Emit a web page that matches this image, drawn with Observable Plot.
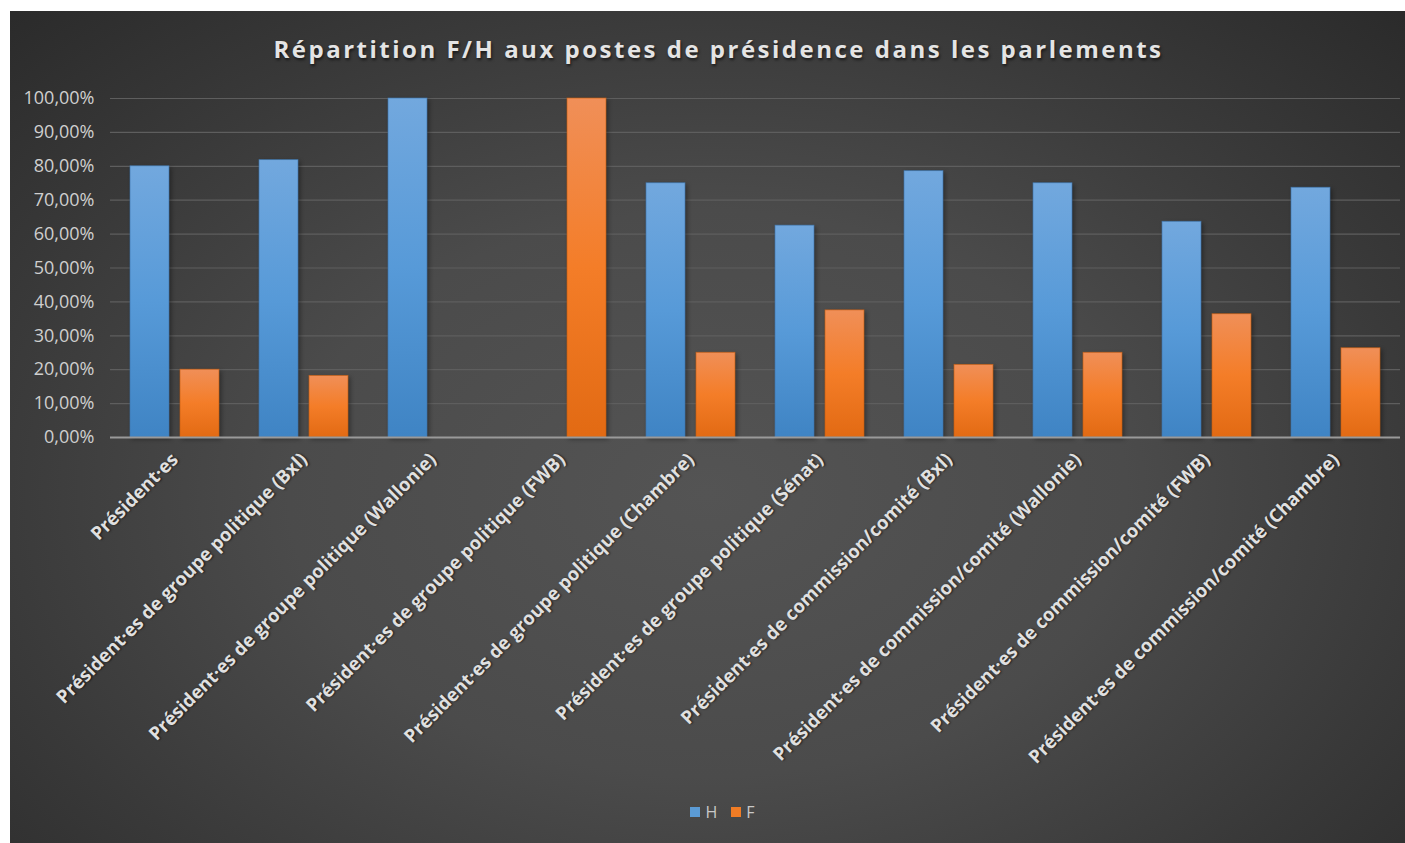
<!DOCTYPE html>
<html>
<head>
<meta charset="utf-8">
<script src="https://cdn.jsdelivr.net/npm/d3@7"></script>
<script src="https://cdn.jsdelivr.net/npm/@observablehq/plot@0.6"></script>
<style>
  html, body { margin: 0; padding: 0; background: #ffffff; width: 1405px; height: 843px; overflow: hidden; }
  #frame {
    position: absolute; left: 10px; top: 11px; width: 1395px; height: 832px;
    background: radial-gradient(ellipse 75% 85% at 50% 58%, #545454 0%, #4b4b4b 40%, #393939 70%, #282828 100%);
    font-family: "Open Sans", sans-serif;
  }
  #title {
    position: absolute; left: 0; top: 21px; width: 1395px; padding-left: 22px; box-sizing: border-box;
    text-align: center; font-size: 24px; font-weight: 700; letter-spacing: 2.5px;
    color: #e4e4e4; text-shadow: 1px 2px 3px rgba(0,0,0,0.6);
  }
  #chart { position: absolute; left: 0; top: 0; }
  #legend {
    position: absolute; top: 790px; left: 0; width: 1395px; padding-left: 30px; box-sizing: border-box;
    display: flex; justify-content: center; gap: 14px; font-size: 16px; color: #c8c8c8;
  }
  #legend .item { display: flex; align-items: center; gap: 5px; }
  #legend .sw { width: 10px; height: 10px; display: inline-block; }
  #chart svg g[aria-label="bar"] rect { filter: drop-shadow(2px 2px 2px rgba(0,0,0,0.35)); }
  #chart svg g[aria-label="fx-axis tick label"] text { text-shadow: 1px 1px 2px rgba(0,0,0,0.6); }
</style>
</head>
<body>
<div id="frame">
  <div id="chart"></div>
  <div id="title">Répartition F/H aux postes de présidence dans les parlements</div>
  <div id="legend"></div>
</div>
<script>
const categories = [
  "Président·es",
  "Président·es de groupe politique (Bxl)",
  "Président·es de groupe politique (Wallonie)",
  "Président·es de groupe politique (FWB)",
  "Président·es de groupe politique (Chambre)",
  "Président·es de groupe politique (Sénat)",
  "Président·es de commission/comité (Bxl)",
  "Président·es de commission/comité (Wallonie)",
  "Président·es de commission/comité (FWB)",
  "Président·es de commission/comité (Chambre)"
];
const seriesNames = ["H", "F"];
const valuesH = [80, 81.82, 100, 0, 75, 62.5, 78.57, 75, 63.64, 73.68];
const valuesF = [20, 18.18, 0, 100, 25, 37.5, 21.43, 25, 36.36, 26.32];
const yTicks = [0, 10, 20, 30, 40, 50, 60, 70, 80, 90, 100];
const seriesColors = { H: "#5b9bd5", F: "#f07c25" };

const rows = [];
categories.forEach((c, i) => {
  rows.push({ cat: c, s: "H", v: valuesH[i] });
  rows.push({ cat: c, s: "F", v: valuesF[i] });
});

const fmt = d => d.toFixed(2).replace(".", ",") + "%";

const W = 1395, H = 780;
const plot = Plot.plot({
  width: W,
  height: H,
  marginLeft: 98,
  marginRight: 4,
  marginTop: 87,
  marginBottom: H - 426,
  style: { background: "transparent", fontFamily: "Open Sans, sans-serif", overflow: "visible" },
  fx: { domain: categories, padding: 0, label: null, axis: null },
  x: { domain: seriesNames, paddingInner: 0.22, paddingOuter: 0.4, axis: null, label: null },
  y: { domain: [0, 100], axis: null, label: null },
  marks: [
    Plot.ruleY(yTicks.filter(t => t > 0), { stroke: "#5e5e5e", strokeWidth: 1.2 }),
    Plot.barY(rows.filter(d => d.s === "H"), {
      fx: "cat", x: "s", y: "v", fill: "url(#gradH)", stroke: "#3f76ad", strokeWidth: 0.8, strokeOpacity: 0.8
    }),
    Plot.barY(rows.filter(d => d.s === "F"), {
      fx: "cat", x: "s", y: "v", fill: "url(#gradF)", stroke: "#c75e12", strokeWidth: 0.8, strokeOpacity: 0.8
    }),
    Plot.ruleY([0], { stroke: "#9a9a9a", strokeWidth: 2 }),
    Plot.axisY({
      ticks: yTicks, tickFormat: fmt, tickSize: 0, tickPadding: 16,
      fontSize: 18, color: "#cfcfcf", label: null
    }),
    Plot.axisFx({
      anchor: "bottom", tickRotate: -45, tickSize: 0, tickPadding: 19,
      fontSize: 18.5, fontWeight: "bold", color: "#e0e0e0", label: null
    })
  ]
});

// gradients
const ns = "http://www.w3.org/2000/svg";
const defs = document.createElementNS(ns, "defs");
function grad(id, stops) {
  const g = document.createElementNS(ns, "linearGradient");
  g.setAttribute("id", id);
  g.setAttribute("x1", "0"); g.setAttribute("y1", "0");
  g.setAttribute("x2", "0"); g.setAttribute("y2", "1");
  stops.forEach(([o, c]) => {
    const s = document.createElementNS(ns, "stop");
    s.setAttribute("offset", o); s.setAttribute("stop-color", c);
    g.appendChild(s);
  });
  defs.appendChild(g);
}
grad("gradH", [["0", "#72a8de"], ["0.5", "#579ad8"], ["1", "#3f84c4"]]);
grad("gradF", [["0", "#f08f58"], ["0.5", "#f47d28"], ["1", "#e26a13"]]);
plot.insertBefore(defs, plot.firstChild);
document.getElementById("chart").appendChild(plot);

// legend
const lg = document.getElementById("legend");
seriesNames.forEach(s => {
  const it = document.createElement("div");
  it.className = "item";
  const sw = document.createElement("span");
  sw.className = "sw";
  sw.style.background = seriesColors[s];
  const lab = document.createElement("span");
  lab.textContent = s;
  it.appendChild(sw); it.appendChild(lab);
  lg.appendChild(it);
});
</script>
</body>
</html>
